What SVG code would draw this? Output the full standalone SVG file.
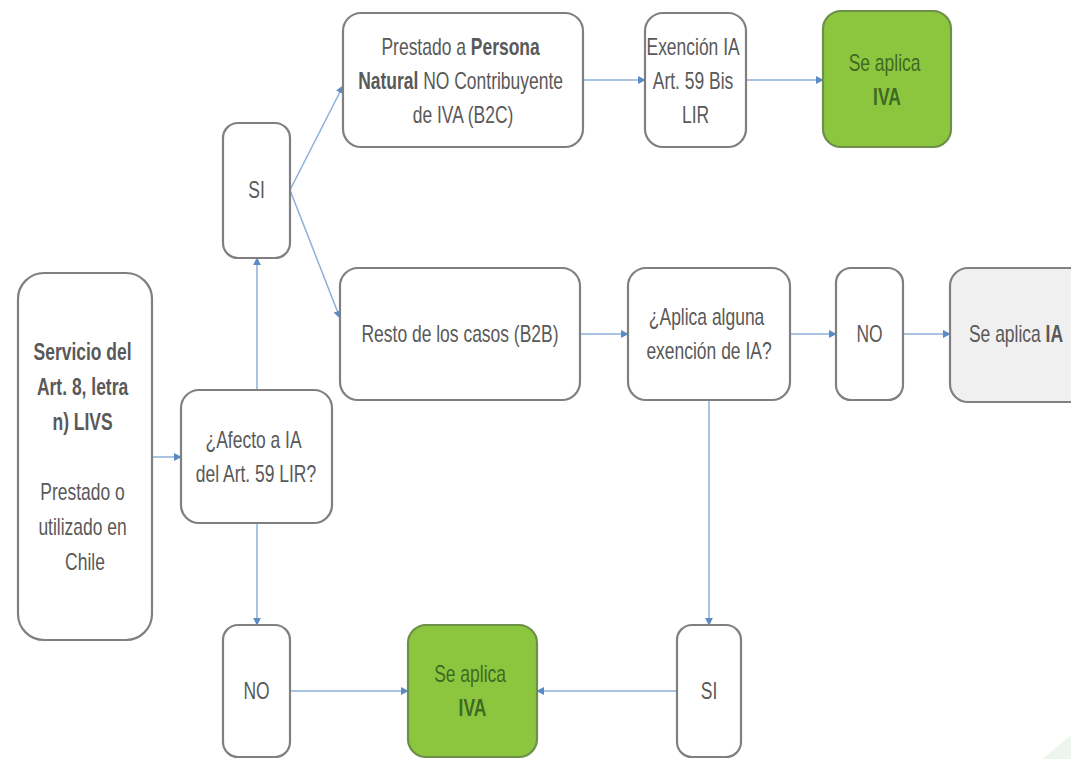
<svg xmlns="http://www.w3.org/2000/svg" width="1071" height="759" viewBox="0 0 1071 759">
<defs>
<marker id="arr" viewBox="0 0 10 10" refX="9" refY="5" markerWidth="8" markerHeight="8" markerUnits="userSpaceOnUse" orient="auto">
<path d="M0,0 L10,5 L0,10 z" fill="#5b8bc4"/>
</marker>
<style>
.box{fill:#ffffff;stroke:#808080;stroke-width:2.2}
.green{fill:#8cc63f;stroke:#6d8f4a;stroke-width:2.2}
.gray{fill:#f0f0f0;stroke:#808080;stroke-width:2.2}
.t{font-family:"Liberation Sans",Arial,sans-serif;font-size:23px;fill:#595959;text-anchor:middle}
.tg{font-family:"Liberation Sans",Arial,sans-serif;font-size:23px;fill:#3f6a23;text-anchor:middle}
.b{font-weight:bold}
.c{fill:none;stroke:#8cb0d8;stroke-width:1.5;marker-end:url(#arr)}
</style>
</defs>
<rect width="1071" height="759" fill="#ffffff"/>
<polygon points="1071,735 1071,759 1042,759" fill="#eef4ee"/>

<g id="connectors">
<line class="c" x1="152" y1="457" x2="181" y2="457"/>
<line class="c" x1="257" y1="390" x2="257" y2="258"/>
<line class="c" x1="257" y1="523" x2="257" y2="625"/>
<line class="c" x1="290" y1="190" x2="343" y2="86"/>
<line class="c" x1="290" y1="190" x2="340" y2="318"/>
<line class="c" x1="583" y1="80" x2="645" y2="80"/>
<line class="c" x1="746" y1="80" x2="823" y2="80"/>
<line class="c" x1="580" y1="334" x2="628" y2="334"/>
<line class="c" x1="790" y1="334" x2="836" y2="334"/>
<line class="c" x1="903" y1="334" x2="950" y2="334"/>
<line class="c" x1="709" y1="400" x2="709" y2="625"/>
<line class="c" x1="290" y1="691" x2="408" y2="691"/>
<line class="c" x1="677" y1="691" x2="537" y2="691"/>
</g>

<g id="servicio">
<rect class="box" x="18" y="273" width="134" height="367" rx="26"/>
<text class="t" transform="translate(85,0) scale(0.76,1)">
<tspan class="b" x="0" y="360">Servicio del</tspan>
<tspan class="b" x="0" y="395">Art. 8, letra</tspan>
<tspan class="b" x="0" y="430">n) LIVS</tspan>
<tspan x="0" y="500">Prestado o</tspan>
<tspan x="0" y="535">utilizado en</tspan>
<tspan x="0" y="570">Chile</tspan>
</text>
</g>

<g id="afecto">
<rect class="box" x="181" y="390" width="151" height="133" rx="18"/>
<text class="t" transform="translate(256,0) scale(0.76,1)">
<tspan x="0" y="448">¿Afecto a IA</tspan>
<tspan x="0" y="482">del Art. 59 LIR?</tspan>
</text>
</g>

<g id="si-top">
<rect class="box" x="223" y="123" width="67" height="135" rx="15"/>
<text class="t" transform="translate(256.5,198) scale(0.76,1)">SI</text>
</g>

<g id="no-bottom">
<rect class="box" x="223" y="625" width="67" height="132" rx="15"/>
<text class="t" transform="translate(256.5,699) scale(0.76,1)">NO</text>
</g>

<g id="iva-bottom">
<rect class="green" x="408" y="625" width="129" height="132" rx="18"/>
<text class="tg" transform="translate(472.5,0) scale(0.76,1)">
<tspan x="0" y="682">Se aplica</tspan>
<tspan class="b" x="0" y="716">IVA</tspan>
</text>
</g>

<g id="si-bottom">
<rect class="box" x="677" y="625" width="64" height="132" rx="15"/>
<text class="t" transform="translate(709,699) scale(0.76,1)">SI</text>
</g>

<g id="prestado">
<rect class="box" x="343" y="13" width="240" height="134" rx="18"/>
<text class="t" transform="translate(463,0) scale(0.76,1)">
<tspan x="0" y="55">Prestado a <tspan class="b">Persona</tspan></tspan>
<tspan x="0" y="89"><tspan class="b">Natural</tspan> NO Contribuyente</tspan>
<tspan x="0" y="123">de IVA (B2C)</tspan>
</text>
</g>

<g id="exencion">
<rect class="box" x="645" y="13" width="101" height="134" rx="18"/>
<text class="t" transform="translate(695.5,0) scale(0.76,1)">
<tspan x="0" y="55">Exención IA</tspan>
<tspan x="0" y="89">Art. 59 Bis</tspan>
<tspan x="0" y="123">LIR</tspan>
</text>
</g>

<g id="iva-top">
<rect class="green" x="823" y="11" width="128" height="136" rx="18"/>
<text class="tg" transform="translate(887,0) scale(0.76,1)">
<tspan x="0" y="71">Se aplica</tspan>
<tspan class="b" x="0" y="105">IVA</tspan>
</text>
</g>

<g id="resto">
<rect class="box" x="340" y="268" width="240" height="132" rx="18"/>
<text class="t" transform="translate(460,342) scale(0.76,1)">Resto de los casos (B2B)</text>
</g>

<g id="aplica">
<rect class="box" x="628" y="268" width="162" height="132" rx="18"/>
<text class="t" transform="translate(709,0) scale(0.76,1)">
<tspan x="0" y="325">¿Aplica alguna</tspan>
<tspan x="0" y="359">exención de IA?</tspan>
</text>
</g>

<g id="no-mid">
<rect class="box" x="836" y="268" width="67" height="132" rx="15"/>
<text class="t" transform="translate(869.5,342) scale(0.76,1)">NO</text>
</g>

<g id="se-aplica-ia">
<rect class="gray" x="950" y="268" width="140" height="134" rx="18"/>
<text class="t" transform="translate(1016,342) scale(0.76,1)">Se aplica <tspan class="b">IA</tspan></text>
</g>
</svg>
